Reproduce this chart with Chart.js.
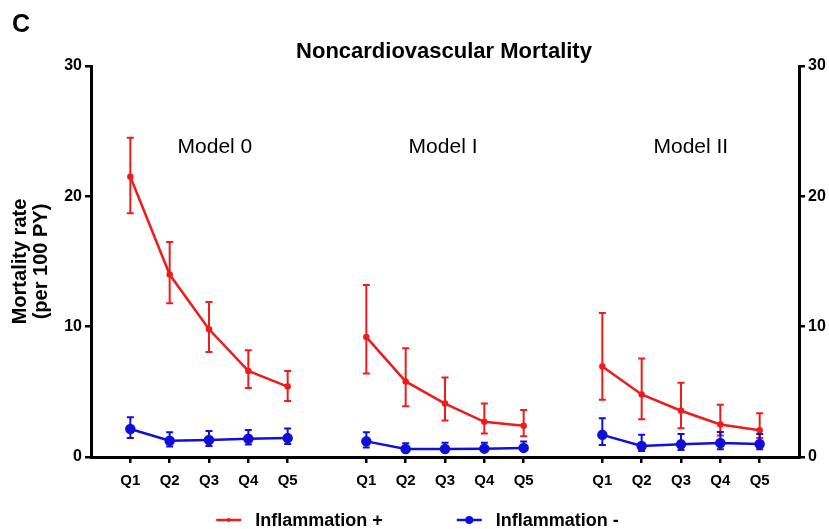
<!DOCTYPE html>
<html>
<head>
<meta charset="utf-8">
<script src="https://cdn.jsdelivr.net/npm/chart.js@4.4.0/dist/chart.umd.min.js"></script>
<style>
  html, body { margin: 0; padding: 0; background: #fff; }
</style>
</head>
<body>
<canvas id="mortalityChart" width="829" height="529"></canvas>
<script>
const quintiles = ['Q1', 'Q2', 'Q3', 'Q4', 'Q5'];
const models = ['Model 0', 'Model I', 'Model II'];
const yTicks = [0, 10, 20, 30];

// Inflammation + : one row per model (Q1..Q5)
const plusMean = [[21.5, 14.0, 9.8, 6.6, 5.4], [9.2, 5.8, 4.1, 2.7, 2.4], [6.95, 4.8, 3.55, 2.5, 2.05]];
const plusLow  = [[18.7, 11.8, 8.05, 5.3, 4.3], [6.4, 3.9, 2.8, 1.8, 1.6], [4.4, 2.9, 2.2, 1.65, 1.45]];
const plusHigh = [[24.5, 16.5, 11.9, 8.2, 6.6], [13.2, 8.35, 6.1, 4.1, 3.6], [11.05, 7.55, 5.7, 4.0, 3.35]];

// Inflammation -
const minusMean = [[2.15, 1.25, 1.3, 1.4, 1.45], [1.2, 0.62, 0.62, 0.64, 0.7], [1.7, 0.85, 0.97, 1.08, 1.0]];
const minusLow  = [[1.45, 0.8, 0.85, 0.95, 1.0], [0.72, 0.44, 0.44, 0.46, 0.5], [0.92, 0.46, 0.54, 0.6, 0.6]];
const minusHigh = [[3.05, 1.9, 2.0, 2.08, 2.18], [1.9, 1.05, 1.1, 1.1, 1.18], [2.97, 1.7, 1.77, 1.92, 1.77]];

const RED = '#ee1c1c';
const BLUE = '#1010d8';
const FONT = '"Liberation Sans", Arial, Helvetica, sans-serif';

// each model takes 5 slots plus one empty slot between groups
const groupSize = quintiles.length + 1;
const tickPositions = [];
models.forEach((m, g) => quintiles.forEach((q, i) => tickPositions.push(g * groupSize + i + 1)));

function toPoints(mean, low, high) {
  const pts = [];
  mean.forEach((row, g) => {
    if (g > 0) pts.push({ x: g * groupSize, y: null });
    row.forEach((v, i) => pts.push({ x: g * groupSize + i + 1, y: v, lo: low[g][i], hi: high[g][i] }));
  });
  return pts;
}

// error bars drawn with the chart's own scales
const errorBars = {
  id: 'errorBars',
  afterDatasetsDraw(chart) {
    const ctx = chart.ctx;
    const xs = chart.scales.x, ys = chart.scales.y;
    chart.data.datasets.forEach(ds => {
      ctx.save();
      ctx.strokeStyle = ds.borderColor;
      ctx.lineWidth = 2;
      ds.data.forEach(p => {
        if (p.y == null) return;
        const px = xs.getPixelForValue(p.x);
        const top = ys.getPixelForValue(p.hi);
        const bot = ys.getPixelForValue(p.lo);
        ctx.beginPath();
        ctx.moveTo(px, top); ctx.lineTo(px, bot);
        ctx.moveTo(px - 3.5, top); ctx.lineTo(px + 3.5, top);
        ctx.moveTo(px - 3.5, bot); ctx.lineTo(px + 3.5, bot);
        ctx.stroke();
      });
      ctx.restore();
    });
  }
};

// panel letter, title, model captions and legend
const annotations = {
  id: 'annotations',
  afterDraw(chart) {
    const ctx = chart.ctx;
    const xs = chart.scales.x, ys = chart.scales.y;
    ctx.save();
    ctx.fillStyle = '#000';
    ctx.textBaseline = 'middle';
    ctx.textAlign = 'left';
    ctx.font = 'bold 25px ' + FONT;
    ctx.fillText('C', 12, 25);
    ctx.textAlign = 'center';
    ctx.font = 'bold 22px ' + FONT;
    ctx.fillText('Noncardiovascular Mortality', 444, 52);

    ctx.font = '21px ' + FONT;
    const offsets = [0.15, -0.05, 0.25];
    models.forEach((m, g) => {
      const cx = g * groupSize + (quintiles.length + 1) / 2 + offsets[g];
      ctx.fillText(m, xs.getPixelForValue(cx), ys.getPixelForValue(23.8));
    });

    // legend
    ctx.font = 'bold 18px ' + FONT;
    ctx.textAlign = 'left';
    const ds = chart.data.datasets;
    const widths = ds.map(d => 39 + ctx.measureText(d.label).width);
    const gap = 74;
    let x0 = 417.5 - (widths[0] + gap + widths[1]) / 2;
    const ly = 520;
    ds.forEach((d, i) => {
      ctx.strokeStyle = d.borderColor;
      ctx.fillStyle = d.borderColor;
      ctx.lineWidth = 2.5;
      ctx.beginPath();
      ctx.moveTo(x0, ly); ctx.lineTo(x0 + 25, ly);
      ctx.stroke();
      ctx.beginPath();
      ctx.arc(x0 + 12.5, ly, d.pointRadius, 0, Math.PI * 2);
      ctx.fill();
      ctx.fillStyle = '#000';
      ctx.fillText(d.label, x0 + 39, ly + 1);
      x0 += widths[i] + gap;
    });
    ctx.restore();
  }
};

const axisGrid = {
  display: true,
  drawOnChartArea: false,
  drawTicks: true,
  tickLength: 6,
  lineWidth: 2.5,
  color: '#000'
};
const axisBorder = { display: true, width: 3, color: '#000' };

const config = {
  type: 'line',
  data: {
    datasets: [
      {
        label: 'Inflammation +',
        data: toPoints(plusMean, plusLow, plusHigh),
        borderColor: RED,
        backgroundColor: RED,
        borderWidth: 2.5,
        pointRadius: 2,
        pointHoverRadius: 2,
        spanGaps: false
      },
      {
        label: 'Inflammation -',
        data: toPoints(minusMean, minusLow, minusHigh),
        borderColor: BLUE,
        backgroundColor: BLUE,
        borderWidth: 2.5,
        pointRadius: 4,
        pointHoverRadius: 4,
        spanGaps: false
      }
    ]
  },
  options: {
    responsive: false,
    animation: false,
    layout: { padding: { top: 66, left: 0, right: 0, bottom: 0 } },
    plugins: {
      legend: { display: false },
      tooltip: { enabled: false }
    },
    scales: {
      x: {
        type: 'linear',
        min: 0,
        max: models.length * groupSize,
        grid: axisGrid,
        border: axisBorder,
        afterBuildTicks: axis => { axis.ticks = tickPositions.map(v => ({ value: v })); },
        afterFit: axis => { axis.height = 72; },
        ticks: {
          autoSkip: false,
          maxRotation: 0,
          padding: 9,
          color: '#000',
          font: { family: FONT, size: 15, weight: 'bold' },
          callback: v => quintiles[(v - 1) % groupSize]
        }
      },
      y: {
        position: 'left',
        min: yTicks[0],
        max: yTicks[yTicks.length - 1],
        grid: axisGrid,
        border: axisBorder,
        afterBuildTicks: axis => { axis.ticks = yTicks.map(v => ({ value: v })); },
        afterFit: axis => { axis.width = 91; },
        ticks: {
          padding: 3,
          color: '#000',
          font: { family: FONT, size: 16, weight: 'bold' }
        },
        title: {
          display: true,
          text: ['Mortality rate', '(per 100 PY)'],
          color: '#000',
          font: { family: FONT, size: 20, weight: 'bold', lineHeight: 1.05 },
          padding: { top: 10, bottom: 0 }
        }
      },
      y2: {
        position: 'right',
        display: true,
        min: yTicks[0],
        max: yTicks[yTicks.length - 1],
        grid: axisGrid,
        border: axisBorder,
        afterBuildTicks: axis => { axis.ticks = yTicks.map(v => ({ value: v })); },
        afterFit: axis => { axis.width = 30; },
        ticks: {
          padding: 3,
          color: '#000',
          font: { family: FONT, size: 16, weight: 'bold' }
        }
      }
    }
  },
  plugins: [errorBars, annotations]
};

const chartElement = document.getElementById('mortalityChart');
const mortalityChart = new Chart(chartElement, config);
</script>
</body>
</html>
